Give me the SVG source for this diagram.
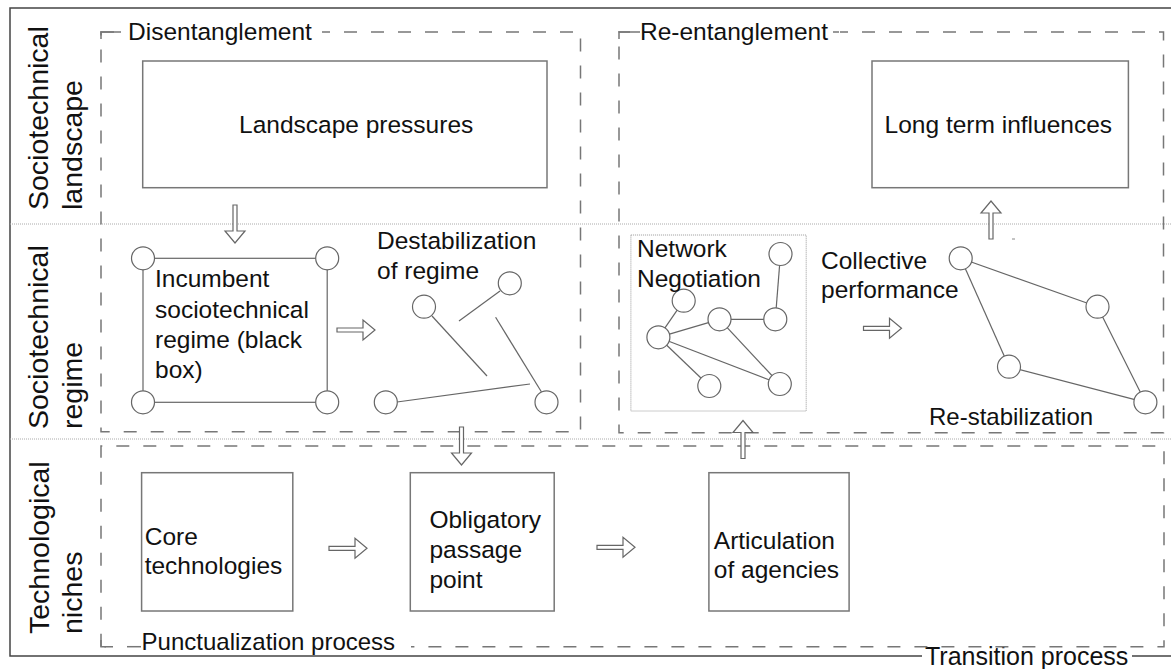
<svg xmlns="http://www.w3.org/2000/svg" xmlns:xlink="http://www.w3.org/1999/xlink" width="1171" height="669" viewBox="0 0 1171 669">
<style>
text{font-family:"Liberation Sans",Arial,sans-serif;fill:#111;}
.t{font-size:24.5px;}
.side{font-size:28.5px;}
.frame{fill:none;stroke:#444;stroke-width:1.5;}
.sep{fill:none;stroke:#aaa;stroke-width:1;stroke-dasharray:1 1;}
.dash{fill:none;stroke:#777;stroke-width:1.5;stroke-dasharray:13 14;}
.solid{fill:none;stroke:#777;stroke-width:1.5;}
.box{fill:#fff;stroke:#777;stroke-width:1.5;}
.dot{fill:none;stroke:#999;stroke-width:1;stroke-dasharray:1 1;}
.edge{fill:none;stroke:#666;stroke-width:1.2;}
.nd{fill:#fff;stroke:#666;stroke-width:1.2;}
.arr{fill:#fff;stroke:#666;stroke-width:1.2;}
.wb{fill:#fff;stroke:none;}
</style>
<defs>
<path id="arrR" d="M0,-2 H26 V-10 L38,0 L26,10 V2 H0 Z"/>
</defs>
<rect width="1171" height="669" fill="#fff"/>

<g id="frame">
<path class="frame" d="M1171,8 H10 V656 H1171"/>
<line class="sep" x1="10" y1="224" x2="1171" y2="224"/>
<line class="sep" x1="10" y1="439" x2="1171" y2="439"/>
<rect class="wb" x="922" y="649" width="210" height="20"/>
<text x="925" y="665" style="font-size:25px">Transition process</text>
</g>

<g id="row-labels">
<text class="side" transform="translate(48,210) rotate(-90)">Sociotechnical</text>
<text class="side" transform="translate(82,210) rotate(-90)">landscape</text>
<text class="side" transform="translate(48,429) rotate(-90)">Sociotechnical</text>
<text class="side" transform="translate(82,429) rotate(-90)">regime</text>
<text class="side" transform="translate(49,634) rotate(-90)">Technological</text>
<text class="side" transform="translate(82,634) rotate(-90)">niches</text>
</g>

<g id="disentanglement">
<path class="dash" d="M101,32 H580.5 V431.7 H101 Z"/>
<rect class="wb" x="122" y="20" width="200" height="24"/>
<path class="solid" d="M101,39 V32 H121"/>
<text class="t" x="128" y="40">Disentanglement</text>
</g>

<g id="re-entanglement">
<path class="dash" d="M619,32 H1163.5 V432.7 H619 Z"/>
<rect class="wb" x="630" y="20" width="210" height="24"/>
<path class="solid" d="M619,39 V32 H640"/>
<line class="solid" x1="833" y1="32" x2="839" y2="32"/>
<text class="t" x="640" y="40">Re-entanglement</text>
</g>

<g id="punctualization">
<path class="dash" d="M101,646.7 V446 H1164 V646.7 Z"/>
<rect class="wb" x="106" y="638" width="305" height="16"/>
<path class="solid" d="M101,640 V646.7 H113"/>
<line class="solid" x1="127" y1="646.7" x2="141" y2="646.7"/>
<text style="font-size:24px" x="141.6" y="650">Punctualization process</text>
</g>

<g id="landscape-pressures">
<rect class="box" x="142.7" y="61" width="404.3" height="126.7"/>
<text class="t" x="239" y="133">Landscape pressures</text>
</g>

<g id="long-term-influences">
<rect class="box" x="872" y="61" width="256.4" height="126.7"/>
<text class="t" x="884.6" y="133">Long term influences</text>
</g>

<g id="incumbent-regime">
<rect class="edge" x="143" y="258.3" width="184.2" height="144"/>
<circle class="nd" cx="143" cy="258.3" r="11.5"/>
<circle class="nd" cx="327.2" cy="258.3" r="11.5"/>
<circle class="nd" cx="143" cy="402.3" r="11.5"/>
<circle class="nd" cx="327.2" cy="402.3" r="11.5"/>
<text class="t" x="155" y="287">Incumbent</text>
<text class="t" x="155" y="318">sociotechnical</text>
<text class="t" x="155" y="348">regime (black</text>
<text class="t" x="155" y="378">box)</text>
</g>

<g id="destabilization">
<line class="edge" x1="432" y1="316" x2="487" y2="376"/>
<line class="edge" x1="500" y1="291" x2="459" y2="321"/>
<line class="edge" x1="495.6" y1="317.3" x2="541.5" y2="392"/>
<line class="edge" x1="397" y1="402" x2="530" y2="384"/>
<circle class="nd" cx="424" cy="306.7" r="11.5"/>
<circle class="nd" cx="509.8" cy="283.3" r="11.5"/>
<circle class="nd" cx="385.8" cy="402.3" r="11.5"/>
<circle class="nd" cx="546.5" cy="402.3" r="11.5"/>
<text class="t" x="377" y="249">Destabilization</text>
<text class="t" x="377" y="279">of regime</text>
</g>

<g id="network-negotiation">
<rect class="dot" x="630.9" y="235" width="175.3" height="176"/>
<line class="edge" x1="780.5" y1="254" x2="775.3" y2="319.3"/>
<line class="edge" x1="719.5" y1="319.3" x2="775.3" y2="319.3"/>
<line class="edge" x1="658.4" y1="337.3" x2="683.7" y2="300.7"/>
<line class="edge" x1="658.4" y1="337.3" x2="719.5" y2="319.3"/>
<line class="edge" x1="658.4" y1="337.3" x2="779.8" y2="384"/>
<line class="edge" x1="658.4" y1="337.3" x2="709.3" y2="386"/>
<line class="edge" x1="719.5" y1="319.3" x2="779.8" y2="384"/>
<circle class="nd" cx="780.5" cy="254" r="11.5"/>
<circle class="nd" cx="683.7" cy="300.7" r="11.5"/>
<circle class="nd" cx="719.5" cy="319.3" r="11.5"/>
<circle class="nd" cx="775.3" cy="319.3" r="11.5"/>
<circle class="nd" cx="658.4" cy="337.3" r="11.5"/>
<circle class="nd" cx="709.3" cy="386" r="11.5"/>
<circle class="nd" cx="779.8" cy="384" r="11.5"/>
<text class="t" x="637" y="257">Network</text>
<text class="t" x="637" y="287">Negotiation</text>
</g>

<g id="collective-performance">
<text class="t" x="821" y="269">Collective</text>
<text class="t" x="821" y="298">performance</text>
</g>

<g id="re-stabilization">
<line class="edge" x1="960.7" y1="258.3" x2="1097.5" y2="306.7"/>
<line class="edge" x1="960.7" y1="258.3" x2="1009" y2="366.7"/>
<line class="edge" x1="1097.5" y1="306.7" x2="1145.4" y2="402.3"/>
<line class="edge" x1="1009" y1="366.7" x2="1145.4" y2="402.3"/>
<circle class="nd" cx="960.7" cy="258.3" r="11.5"/>
<circle class="nd" cx="1097.5" cy="306.7" r="11.5"/>
<circle class="nd" cx="1009" cy="366.7" r="11.5"/>
<circle class="nd" cx="1145.4" cy="402.3" r="11.5"/>
<text style="font-size:24px" x="929" y="425">Re-stabilization</text>
<line x1="1012" y1="239" x2="1015" y2="239" stroke="#888" stroke-width="1"/>
</g>

<g id="core-technologies">
<rect class="box" x="141.6" y="472.7" width="151.2" height="138.3"/>
<text class="t" x="144.7" y="545">Core</text>
<text class="t" x="144.7" y="574">technologies</text>
</g>

<g id="obligatory-passage-point">
<rect class="box" x="410.3" y="472.7" width="143.9" height="138.3"/>
<text class="t" x="429.4" y="528">Obligatory</text>
<text class="t" x="429.4" y="558">passage</text>
<text class="t" x="429.4" y="588">point</text>
</g>

<g id="articulation-of-agencies">
<rect class="box" x="708.9" y="472.7" width="140.2" height="138.3"/>
<text class="t" x="713.8" y="549">Articulation</text>
<text class="t" x="713.8" y="578">of agencies</text>
</g>

<g id="connectors">
<use xlink:href="#arrR" class="arr" transform="translate(235,205) rotate(90)"/>
<use xlink:href="#arrR" class="arr" transform="translate(337,330)"/>
<use xlink:href="#arrR" class="arr" transform="translate(461.5,427) rotate(90)"/>
<use xlink:href="#arrR" class="arr" transform="translate(329,548.3)"/>
<use xlink:href="#arrR" class="arr" transform="translate(597,547.3)"/>
<use xlink:href="#arrR" class="arr" transform="translate(743,458.5) rotate(-90)"/>
<use xlink:href="#arrR" class="arr" transform="translate(863.5,328.3)"/>
<use xlink:href="#arrR" class="arr" transform="translate(991,239) rotate(-90)"/>
</g>
</svg>
